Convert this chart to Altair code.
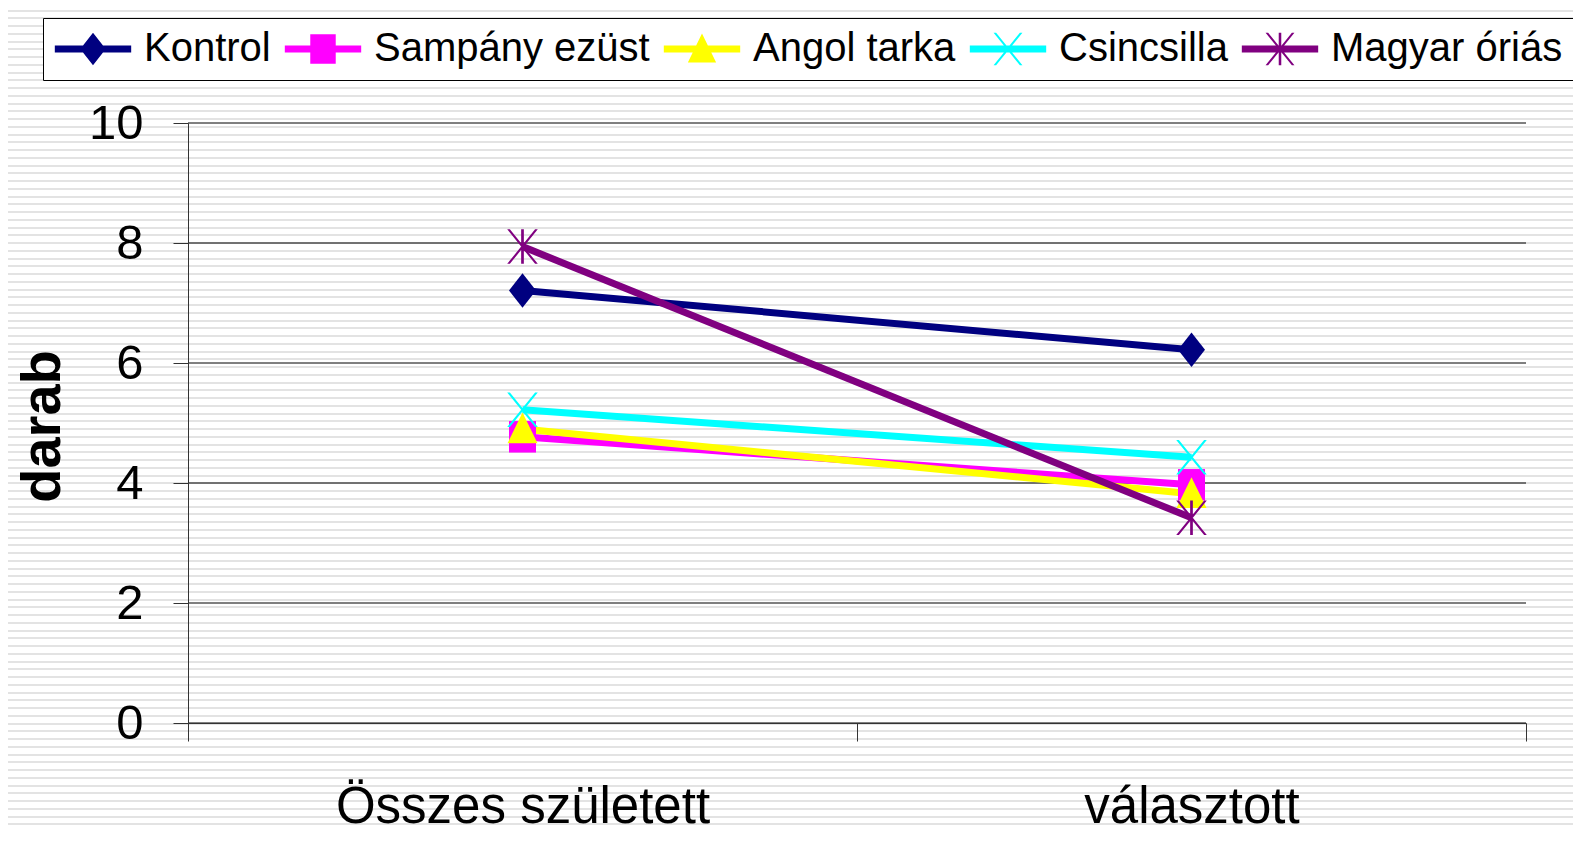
import altair as alt
import pandas as pd

# ---------------- data ----------------
categories = ["Összes született", "választott"]
series = ["Kontrol", "Sampány ezüst", "Angol tarka", "Csincsilla", "Magyar óriás"]
kontrol = [7.21, 6.22]
sampany_ezust = [4.77, 3.97]
angol_tarka = [4.90, 3.82]
csincsilla = [5.22, 4.43]
magyar_orias = [7.94, 3.42]
y_ticks = [0, 2, 4, 6, 8, 10]
colors = ["#000080", "#FF00FF", "#FFFF00", "#00FFFF", "#800080"]

values = [kontrol, sampany_ezust, angol_tarka, csincsilla, magyar_orias]
rows = []
for i, (name, vals) in enumerate(zip(series, values)):
    for cat, v in zip(categories, vals):
        rows.append({"sorozat": name, "kategoria": cat, "darab": v, "rend": i})
df = pd.DataFrame(rows)
grid_df = pd.DataFrame({"darab": y_ticks})

# ---------------- styles ----------------
W, H = 1338, 600
PAD = {"left": 180, "top": 115, "right": 47, "bottom": 110}
FONT = "Liberation Sans, Arial, sans-serif"

diamond = "M0,-1.15L0.9,0L0,1.15L-0.9,0Z"
square = "M-0.9,-1.05H0.9V1.05H-0.9Z"
triangle = "M0,-1.1L1,0.95L-1,0.95Z"
xmark = ("M-1.02,-1.15L-0.84,-1.15L1.02,1.15L0.84,1.15Z "
         "M0.84,-1.15L1.02,-1.15L-0.84,1.15L-1.02,1.15Z")
star = xmark + " M-0.09,-1.15H0.09V1.15H-0.09Z"
markers = [diamond, square, triangle, xmark, star]
stub = "M-2.7,-0.25H2.7V0.25H-2.7Z "
legend_shapes = [stub + m for m in markers]

# striped background (decoration)
total_h = PAD["top"] + H + PAD["bottom"]
period, phase, thick = 7.75, 1.9, 2.0
stops = [alt.GradientStop(offset=0, color="white")]
yy = phase
while yy < 8 + total_h:
    o1 = (yy - 8) / total_h
    o2 = (yy + thick - 8) / total_h
    if o1 > 0 and o2 < 1:
        stops += [alt.GradientStop(offset=o1, color="white"),
                  alt.GradientStop(offset=o1, color="#e3e3e3"),
                  alt.GradientStop(offset=o2, color="#e3e3e3"),
                  alt.GradientStop(offset=o2, color="white")]
    yy += period
stops.append(alt.GradientStop(offset=1, color="white"))
grad = alt.LinearGradient(gradient="linear", stops=stops, x1=0, x2=0, y1=0, y2=1)

color_scale = alt.Scale(domain=series, range=colors)
y_scale = alt.Scale(domain=[0, 10], nice=False)
x_enc = alt.X("kategoria:N",
              scale=alt.Scale(type="band", domain=categories, paddingInner=0, paddingOuter=0),
              axis=alt.Axis(title=None, labelAngle=0, labelFont=FONT, labelFontSize=51,
                            labelColor="black", labelBaseline="alphabetic", labelPadding=81,
                            tickBand="extent", tickSize=18, tickColor="#333", domainColor="#333",
                            grid=False, zindex=1, labelLimit=0))
y_axis = alt.Axis(title="darab", titleFont=FONT, titleFontWeight="bold",
                  titleFontSize=56, titleColor="black", titleAngle=270,
                  titleX=-129, titleY=303, titleBaseline="alphabetic", titleAlign="center",
                  values=y_ticks, labelFont=FONT, labelFontSize=49, labelColor="black",
                  labelPadding=30, tickSize=15, tickColor="#333", domainColor="#333",
                  grid=False, zindex=1)
y_enc = alt.Y("darab:Q", scale=y_scale, axis=y_axis)

bg = alt.Chart(alt.Data(values=[{"a": 1}])).mark_rect(fill=grad).encode(
    x=alt.value(-PAD["left"]), x2=alt.value(W + PAD["right"]),
    y=alt.value(-PAD["top"]), y2=alt.value(H + PAD["bottom"]))

grid = alt.Chart(grid_df).mark_rule(color="black", strokeWidth=1).encode(y=y_enc)

lines = alt.Chart(df).mark_line(strokeWidth=7).encode(
    x=x_enc, y=y_enc,
    color=alt.Color("sorozat:N", scale=color_scale, legend=None),
    order="rend:Q")

points = alt.Chart(df).mark_point(filled=True, size=900, opacity=1, strokeWidth=0).encode(
    x=x_enc, y=y_enc,
    color=alt.Color("sorozat:N", scale=color_scale, legend=None),
    shape=alt.Shape("sorozat:N", scale=alt.Scale(domain=series, range=markers), legend=None))

leg = alt.Legend(title=None, orient="none", legendX=-145, legendY=-105, direction="horizontal",
                 symbolSize=800, symbolStrokeWidth=0, symbolOpacity=1, symbolOffset=19,
                 labelFont=FONT, labelFontSize=40, labelColor="black", labelLimit=0,
                 labelOffset=31, columnPadding=13, padding=11,
                 fillColor="white", strokeColor="black", labelBaseline="middle")

legend_layer = alt.Chart(df).transform_filter("false").mark_point(
    filled=True, size=800, opacity=1, strokeWidth=0).encode(
    color=alt.Color("sorozat:N", scale=alt.Scale(domain=series, range=colors), legend=leg),
    shape=alt.Shape("sorozat:N", scale=alt.Scale(domain=series, range=legend_shapes), legend=leg))

chart = alt.layer(bg, grid, lines, points, legend_layer).resolve_scale(
    color="independent", shape="independent").properties(
    width=W, height=H, padding=PAD, autosize=alt.AutoSizeParams(type="none"),
    background="white").configure_view(stroke=None)

chart.save("out.html", embed_options={"renderer": "svg", "actions": False})
